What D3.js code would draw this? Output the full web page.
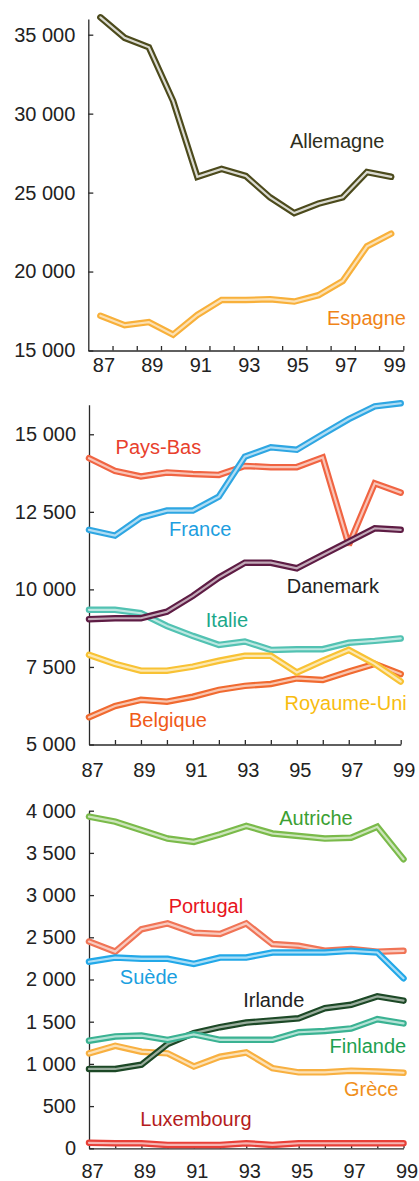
<!DOCTYPE html>
<html>
<head>
<meta charset="utf-8">
<script src="https://cdn.jsdelivr.net/npm/d3@7"></script>
<style>
  body { margin: 0; background: #fff; }
  svg { display: block; font-family: "Liberation Sans", Arial, sans-serif; }
  .axis path, .axis line { stroke: #2a2a2a; stroke-width: 1.3; }
  .axis text { font-size: 20px; fill: #222; font-family: "Liberation Sans", Arial, sans-serif; }
</style>
</head>
<body>
<svg id="chart" width="419" height="1181"></svg>
<script>
// years on the x axis (19xx)
const years = [87, 88, 89, 90, 91, 92, 93, 94, 95, 96, 97, 98, 99];
const yearLabels = [87, 89, 91, 93, 95, 97, 99];

// panel 1
const allemagne = [36100, 34800, 34200, 30800, 26000, 26500, 26050, 24700, 23700, 24300, 24700, 26300, 26000];
const espagne   = [17200, 16600, 16800, 16000, 17250, 18200, 18200, 18250, 18100, 18500, 19400, 21600, 22400];

// panel 2
const paysBas    = [14230, 13820, 13640, 13770, 13720, 13690, 13980, 13940, 13940, 14250, 11430, 13420, 13120];
const france     = [11920, 11735, 12315, 12540, 12540, 12990, 14280, 14580, 14500, 15000, 15490, 15900, 16000];
const danemark   = [9040, 9070, 9070, 9280, 9790, 10380, 10860, 10860, 10680, 11110, 11540, 11970, 11920];
const italie     = [9340, 9340, 9230, 8820, 8500, 8210, 8320, 8050, 8070, 8070, 8280, 8340, 8420];
const royaumeUni = [7890, 7600, 7380, 7380, 7510, 7700, 7860, 7860, 7320, 7700, 8050, 7600, 7030];
const belgique   = [5880, 6240, 6440, 6380, 6540, 6760, 6890, 6950, 7130, 7080, 7350, 7600, 7270];

// panel 3
const autriche   = [3930, 3870, 3770, 3670, 3630, 3720, 3820, 3730, 3700, 3670, 3680, 3810, 3425];
const portugal   = [2450, 2330, 2595, 2665, 2555, 2540, 2665, 2420, 2400, 2340, 2360, 2330, 2340];
const suede      = [2210, 2260, 2245, 2245, 2185, 2260, 2260, 2320, 2320, 2320, 2340, 2320, 2015];
const irlande    = [940, 940, 990, 1235, 1365, 1435, 1490, 1515, 1540, 1660, 1700, 1800, 1750];
const finlande   = [1275, 1325, 1335, 1285, 1350, 1285, 1285, 1285, 1375, 1390, 1420, 1530, 1480];
const grece      = [1125, 1215, 1145, 1125, 970, 1085, 1135, 950, 900, 900, 920, 910, 895];
const luxembourg = [65, 60, 60, 40, 40, 40, 60, 40, 60, 60, 60, 60, 60];

const svg = d3.select("#chart");
const fr = d3.formatLocale({ decimal: ",", thousands: " ", grouping: [3], currency: ["", " €"] });
const fmt = fr.format(",");

// label anchors are given in data units: [year, value]
const panels = [
  {
    yDomain: [15000, 36000], yRange: [350.5, 18.9], yTicks: [15000, 20000, 25000, 30000, 35000],
    xDomain: [86.5, 99.5], xRange: [88.3, 403.3], between: true, labelBase: 371.7,
    series: [
      { name: "Espagne", values: espagne, color: "#f8b03a", text: "#f08418", at: [97.98, 16615] },
      { name: "Allemagne", values: allemagne, color: "#4c4a1c", text: "#2e2e1c", at: [96.77, 27805], mix: 0.8 }
    ]
  },
  {
    yDomain: [5000, 15950], yRange: [744.5, 404.8], yTicks: [5000, 7500, 10000, 12500, 15000],
    xDomain: [87, 99], xRange: [89, 400.7], between: false, labelBase: 777,
    series: [
      { name: "Pays-Bas", values: paysBas, color: "#f06442", text: "#e8402c", at: [89.67, 14355] },
      { name: "France", values: france, color: "#2ea6e2", text: "#1e9ee0", at: [91.28, 11731] },
      { name: "Italie", values: italie, color: "#52c2b2", text: "#1ca88a", at: [92.31, 8778] },
      { name: "Danemark", values: danemark, color: "#5e1c44", text: "#222", at: [96.39, 9874] },
      { name: "Belgique", values: belgique, color: "#f06a30", text: "#f05a18", at: [90.04, 5554] },
      { name: "Royaume-Uni", values: royaumeUni, color: "#f8c234", text: "#f8bc10", at: [96.88, 6112] }
    ]
  },
  {
    yDomain: [0, 4000], yRange: [1148.3, 810.7], yTicks: [0, 500, 1000, 1500, 2000, 2500, 3000, 3500, 4000],
    xDomain: [87, 99], xRange: [89, 403.5], between: false, labelBase: 1178,
    series: [
      { name: "Luxembourg", values: luxembourg, color: "#e84038", text: "#b41c20", at: [91.08, 264] },
      { name: "Grèce", values: grece, color: "#f8b040", text: "#f0901c", at: [97.77, 620] },
      { name: "Portugal", values: portugal, color: "#f07456", text: "#e81420", at: [91.46, 2784] },
      { name: "Suède", values: suede, color: "#22a8e8", text: "#1aa0e0", at: [89.28, 1943] },
      { name: "Irlande", values: irlande, color: "#1c4826", text: "#222", at: [94.05, 1678], mix: 0.55 },
      { name: "Finlande", values: finlande, color: "#3ab292", text: "#1ea050", at: [97.64, 1126] },
      { name: "Autriche", values: autriche, color: "#7aba4a", text: "#3ca032", at: [95.66, 3831] }
    ]
  }
];

panels.forEach(p => {
  const x = d3.scaleLinear().domain(p.xDomain).range(p.xRange);
  const y = d3.scaleLinear().domain(p.yDomain).range(p.yRange);
  const x0 = p.xRange[0], y0 = p.yRange[0];

  // y axis, ticks pointing into the plot
  svg.append("g").attr("class", "axis")
    .attr("transform", `translate(${x0},0)`)
    .call(d3.axisLeft(y).tickValues(p.yTicks).tickFormat(fmt)
      .tickSizeInner(-5).tickSizeOuter(0).tickPadding(13));

  // x axis: ticks only
  const tickVals = p.between ? years.map(d => d + 0.5) : years.slice(1);
  svg.append("g").attr("class", "axis")
    .attr("transform", `translate(0,${y0})`)
    .call(d3.axisBottom(x).tickValues(tickVals).tickFormat("")
      .tickSizeInner(-4.5).tickSizeOuter(0));

  svg.append("g").attr("class", "axis")
    .selectAll("text").data(yearLabels).join("text")
    .attr("x", d => x(d) + 3.5)
    .attr("y", p.labelBase)
    .attr("text-anchor", "middle")
    .text(d => d);

  const line = d3.line()
    .x((d, i) => x(years[i]))
    .y(d => y(d));

  p.series.forEach(s => {
    const g = svg.append("g");
    g.append("path")
      .attr("d", line(s.values))
      .attr("fill", "none")
      .attr("stroke", s.color)
      .attr("stroke-width", 6.5)
      .attr("stroke-linecap", "round")
      .attr("stroke-linejoin", "miter")
      .attr("stroke-miterlimit", 2.5);
    g.append("path")
      .attr("d", line(s.values))
      .attr("fill", "none")
      .attr("stroke", d3.interpolateRgb(s.color, "#fff")(s.mix || 0.62))
      .attr("stroke-width", 2.2)
      .attr("stroke-linecap", "round")
      .attr("stroke-linejoin", "miter")
      .attr("stroke-miterlimit", 2.5);
  });

  svg.append("g").selectAll("text").data(p.series).join("text")
    .attr("x", d => x(d.at[0]))
    .attr("y", d => y(d.at[1]))
    .attr("text-anchor", "middle")
    .attr("font-size", 20)
    .attr("fill", d => d.text)
    .text(d => d.name);
});
</script>
</body>
</html>
